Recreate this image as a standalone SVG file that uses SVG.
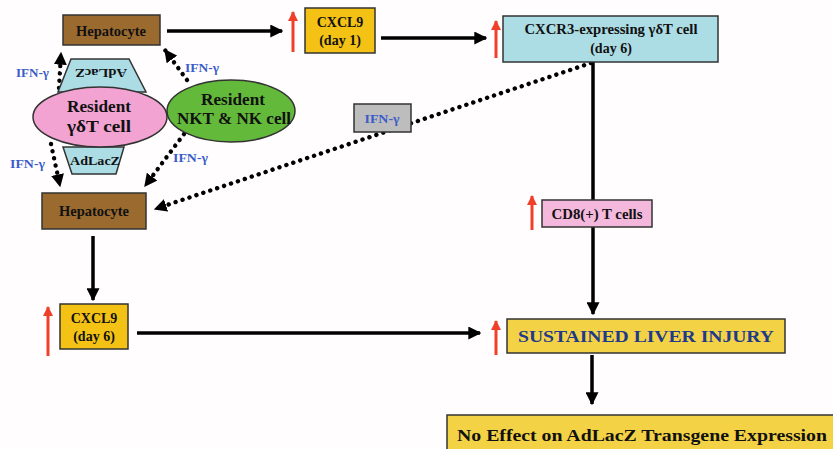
<svg xmlns="http://www.w3.org/2000/svg" width="833" height="449" viewBox="0 0 833 449">
<defs>
<style>
.t{font-family:"Liberation Serif","Times New Roman",serif;font-weight:bold;fill:#111;text-anchor:middle}
.b{stroke:#333;stroke-width:1.5}
.ifn{font-family:"Liberation Serif","Times New Roman",serif;font-weight:bold;fill:#3a5cc8;font-size:13px}
.solid{stroke:#000;stroke-width:3.5;fill:none}
.dot{stroke:#000;stroke-width:4.4;fill:none;stroke-linecap:round;stroke-dasharray:0.1 7.2}
.red{stroke:#f0402a;stroke-width:3;fill:none}
</style>
<marker id="ah" viewBox="0 0 10 10" refX="9" refY="5" markerWidth="13" markerHeight="13" markerUnits="userSpaceOnUse" orient="auto"><path d="M0,0 L10,5 L0,10 z" fill="#000"/></marker>
<marker id="ar" viewBox="0 0 10 10" refX="9" refY="5" markerWidth="10" markerHeight="10" markerUnits="userSpaceOnUse" orient="auto"><path d="M0,0 L10,5 L0,10 z" fill="#f0402a"/></marker>
</defs>
<rect width="833" height="449" fill="#fffdfd"/>

<g id="connectors">
<path class="solid" d="M167,31 H282" marker-end="url(#ah)"/>
<path class="solid" d="M381,38 H486" marker-end="url(#ah)"/>
<path class="solid" d="M593,62 V314" marker-end="url(#ah)"/>
<path class="solid" d="M592,355 V404" marker-end="url(#ah)"/>
<path class="solid" d="M93,236 V300" marker-end="url(#ah)"/>
<path class="solid" d="M137,333 H480" marker-end="url(#ah)"/>
<path class="dot" d="M59,88 L61,53" marker-end="url(#ah)"/>
<path class="dot" d="M187,80 L165,50" marker-end="url(#ah)"/>
<path class="dot" d="M51,144 L60,186" marker-end="url(#ah)"/>
<path class="dot" d="M184,134 L145,186" marker-end="url(#ah)"/>
<path class="dot" d="M591,63 L155,209" marker-end="url(#ah)"/>
</g>

<g id="up-arrows">
<path class="red" d="M293,52 V12" marker-end="url(#ar)"/>
<path class="red" d="M496,58 V21" marker-end="url(#ar)"/>
<path class="red" d="M532,230 V196" marker-end="url(#ar)"/>
<path class="red" d="M496,355 V321" marker-end="url(#ar)"/>
<path class="red" d="M48,356 V307" marker-end="url(#ar)"/>
</g>

<g id="ifn-labels">
<text class="ifn" x="16" y="77" textLength="33" lengthAdjust="spacingAndGlyphs">IFN-γ</text>
<text class="ifn" x="185" y="72" textLength="34" lengthAdjust="spacingAndGlyphs">IFN-γ</text>
<text class="ifn" x="10" y="168" textLength="35" lengthAdjust="spacingAndGlyphs">IFN-γ</text>
<text class="ifn" x="173" y="162" textLength="35" lengthAdjust="spacingAndGlyphs">IFN-γ</text>
</g>

<g id="hepatocyte-top">
<rect class="b" x="63" y="15" width="97" height="30" fill="#9a6a2f"/>
<text class="t" x="111" y="35.5" font-size="14" textLength="70" lengthAdjust="spacingAndGlyphs">Hepatocyte</text>
</g>

<g id="cxcl9-day1">
<rect class="b" x="305" y="8" width="70" height="45" fill="#f4c215"/>
<text class="t" x="340" y="27" font-size="14">CXCL9</text>
<text class="t" x="340" y="45" font-size="14">(day 1)</text>
</g>

<g id="cxcr3-cell">
<rect class="b" x="503" y="16" width="215" height="46" fill="#acdce4"/>
<text class="t" x="611" y="34" font-size="14" textLength="173" lengthAdjust="spacingAndGlyphs">CXCR3-expressing γδT cell</text>
<text class="t" x="611" y="53" font-size="14">(day 6)</text>
</g>

<g id="adlacz-top">
<polygon class="b" points="71,59 129,59 146,92 58,92" fill="#acdce4"/>
<text class="t" font-size="13.5" textLength="52" lengthAdjust="spacingAndGlyphs" transform="translate(101,69) rotate(180)">AdLacZ</text>
</g>

<g id="adlacz-bottom">
<polygon class="b" points="63,147 124,147 116,174 72,174" fill="#acdce4"/>
<text class="t" x="95" y="165" font-size="13.5" textLength="50" lengthAdjust="spacingAndGlyphs">AdLacZ</text>
</g>

<g id="resident-gd">
<ellipse class="b" cx="100" cy="117" rx="67" ry="30" fill="#f2a3d2"/>
<text class="t" x="99" y="112" font-size="16.5" textLength="64" lengthAdjust="spacingAndGlyphs">Resident</text>
<text class="t" x="99" y="132" font-size="16.5" textLength="64" lengthAdjust="spacingAndGlyphs">γδT cell</text>
</g>

<g id="resident-nkt">
<ellipse class="b" cx="231" cy="111" rx="64" ry="31" fill="#63b93a"/>
<text class="t" x="233" y="105" font-size="16.5" textLength="64" lengthAdjust="spacingAndGlyphs">Resident</text>
<text class="t" x="234" y="124" font-size="16.5" textLength="114" lengthAdjust="spacingAndGlyphs">NKT &amp; NK cell</text>
</g>

<g id="ifn-box">
<rect class="b" x="354" y="104" width="57" height="28" fill="#bdbdbd"/>
<text class="ifn" x="382" y="122.5" text-anchor="middle" textLength="35" lengthAdjust="spacingAndGlyphs">IFN-γ</text>
</g>

<g id="hepatocyte-bottom">
<rect class="b" x="42" y="193" width="104" height="36" fill="#9a6a2f"/>
<text class="t" x="94" y="216" font-size="14" textLength="70" lengthAdjust="spacingAndGlyphs">Hepatocyte</text>
</g>

<g id="cd8">
<rect class="b" x="542" y="200" width="110" height="27" fill="#f4b8dc"/>
<text class="t" x="597" y="219" font-size="14" textLength="91" lengthAdjust="spacingAndGlyphs">CD8(+) T cells</text>
</g>

<g id="cxcl9-day6">
<rect class="b" x="60" y="304" width="68" height="45" fill="#f4c215"/>
<text class="t" x="94" y="323" font-size="14">CXCL9</text>
<text class="t" x="94" y="341" font-size="14">(day 6)</text>
</g>

<g id="sustained">
<rect class="b" x="507" y="319" width="278" height="34" fill="#f4d245"/>
<text class="t" x="646" y="342" font-size="17" style="fill:#1e3a8a" textLength="256" lengthAdjust="spacingAndGlyphs">SUSTAINED LIVER INJURY</text>
</g>

<g id="no-effect">
<rect class="b" x="447" y="415" width="390" height="40" fill="#f4d245"/>
<text class="t" x="642" y="441" font-size="17" textLength="370" lengthAdjust="spacingAndGlyphs">No Effect on AdLacZ Transgene Expression</text>
</g>
</svg>
